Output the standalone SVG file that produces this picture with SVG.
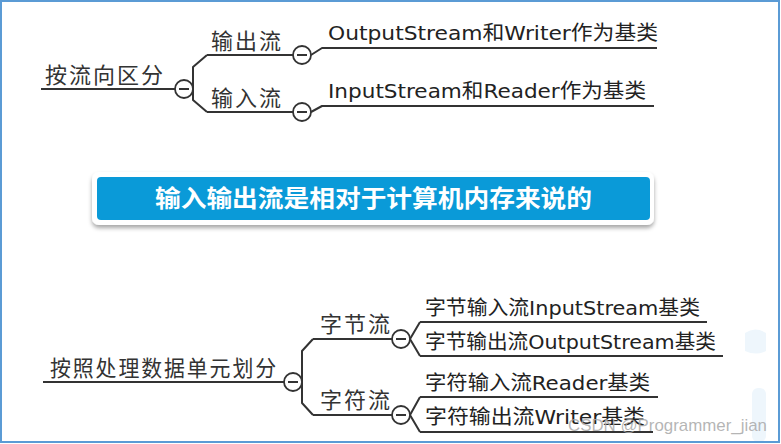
<svg xmlns="http://www.w3.org/2000/svg" width="781" height="444" viewBox="0 0 781 444">
<defs>
<style>
.ln{fill:none;stroke:#333;stroke-width:2;stroke-linejoin:round}
.cir{fill:#fff;stroke:#333;stroke-width:1.8}
.dash{stroke:#333;stroke-width:2}
.cn{font-family:"Noto Sans CJK SC",sans-serif;font-size:22px;fill:#333;letter-spacing:2px}
.mx{font-family:"DejaVu Sans","Noto Sans CJK SC",sans-serif;font-size:20px;fill:#222}
.ban{font-family:"Noto Sans CJK SC",sans-serif;font-size:24px;font-weight:bold;fill:#fff}
.wm{font-family:"Liberation Sans",sans-serif;font-size:17px;fill:#a8a8a8;fill-opacity:0.85}
</style>
<filter id="sh" x="-5%" y="-20%" width="110%" height="150%">
<feDropShadow dx="0" dy="3" stdDeviation="2" flood-color="#000" flood-opacity="0.35"/>
</filter>
<g id="minus">
<circle class="cir" r="9"/>
<line class="dash" x1="-5" y1="0" x2="5" y2="0"/>
</g>
</defs>
<rect width="781" height="444" fill="#fff"/>
<g fill="#eef6fc">
<rect x="752" y="388" width="14" height="54" rx="6"/>
<path d="M745 333 q10 -7 21 0 l0 18 q-10 5 -21 0 z"/>
</g>
<rect x="1" y="1" width="778" height="441" fill="none" stroke="#5b9bd5" stroke-width="2"/>

<g id="connectors">
<polyline class="ln" points="41,89 175,89"/>
<polyline class="ln" points="207,55 193,67 193,100 207,112"/>
<polyline class="ln" points="207,55 293,55"/>
<polyline class="ln" points="207,112 293,112"/>
<polyline class="ln" points="311,55 322,48 657,48"/>
<polyline class="ln" points="311,112 322,106 654,106"/>
<polyline class="ln" points="43,382 284,382"/>
<polyline class="ln" points="313,339 302,351 302,403 313,415"/>
<polyline class="ln" points="313,339 392,339"/>
<polyline class="ln" points="313,415 392,415"/>
<polyline class="ln" points="420,322 410,339 420,356"/>
<polyline class="ln" points="420,322 707,322"/>
<polyline class="ln" points="420,356 723,356"/>
<polyline class="ln" points="420,397 410,415 420,432"/>
<polyline class="ln" points="420,397 658,397"/>
<polyline class="ln" points="420,432 653,432"/>
</g>

<g id="n-root1">
<text class="cn" x="45" y="83">按流向区分</text>
<use href="#minus" x="184" y="89"/>
</g>
<g id="n-out">
<text class="cn" x="211" y="49">输出流</text>
<use href="#minus" x="302" y="55"/>
</g>
<g id="n-in">
<text class="cn" x="211" y="106">输入流</text>
<use href="#minus" x="302" y="112"/>
</g>
<g id="n-outbase">
<text class="mx" x="328" y="40" textLength="330" lengthAdjust="spacingAndGlyphs">OutputStream和Writer作为基类</text>
</g>
<g id="n-inbase">
<text class="mx" x="328" y="98" textLength="318" lengthAdjust="spacingAndGlyphs">InputStream和Reader作为基类</text>
</g>

<g id="n-banner">
<rect x="92" y="172" width="562" height="53" rx="7" fill="#fff" filter="url(#sh)"/>
<rect x="97" y="177" width="553" height="43" rx="4" fill="#0a9ad8"/>
<text class="ban" x="373.5" y="207" text-anchor="middle" textLength="437" lengthAdjust="spacingAndGlyphs">输入输出流是相对于计算机内存来说的</text>
</g>

<g id="n-root2">
<text class="cn" x="50" y="376" textLength="228" lengthAdjust="spacingAndGlyphs">按照处理数据单元划分</text>
<use href="#minus" x="293" y="382"/>
</g>
<g id="n-byte">
<text class="cn" x="320" y="332">字节流</text>
<use href="#minus" x="401" y="339"/>
</g>
<g id="n-char">
<text class="cn" x="320" y="408">字符流</text>
<use href="#minus" x="401" y="415"/>
</g>
<g id="n-bytein">
<text class="mx" x="425" y="315" textLength="275" lengthAdjust="spacingAndGlyphs">字节输入流InputStream基类</text>
</g>
<g id="n-byteout">
<text class="mx" x="425" y="349" textLength="291" lengthAdjust="spacingAndGlyphs">字节输出流OutputStream基类</text>
</g>
<g id="n-charin">
<text class="mx" x="425" y="390" textLength="225" lengthAdjust="spacingAndGlyphs">字符输入流Reader基类</text>
</g>
<g id="n-charout">
<text class="mx" x="425" y="424" textLength="220" lengthAdjust="spacingAndGlyphs">字符输出流Writer基类</text>
</g>
<text class="wm" x="568" y="431" textLength="199" lengthAdjust="spacingAndGlyphs">CSDN @Programmer_jian</text>
</svg>
